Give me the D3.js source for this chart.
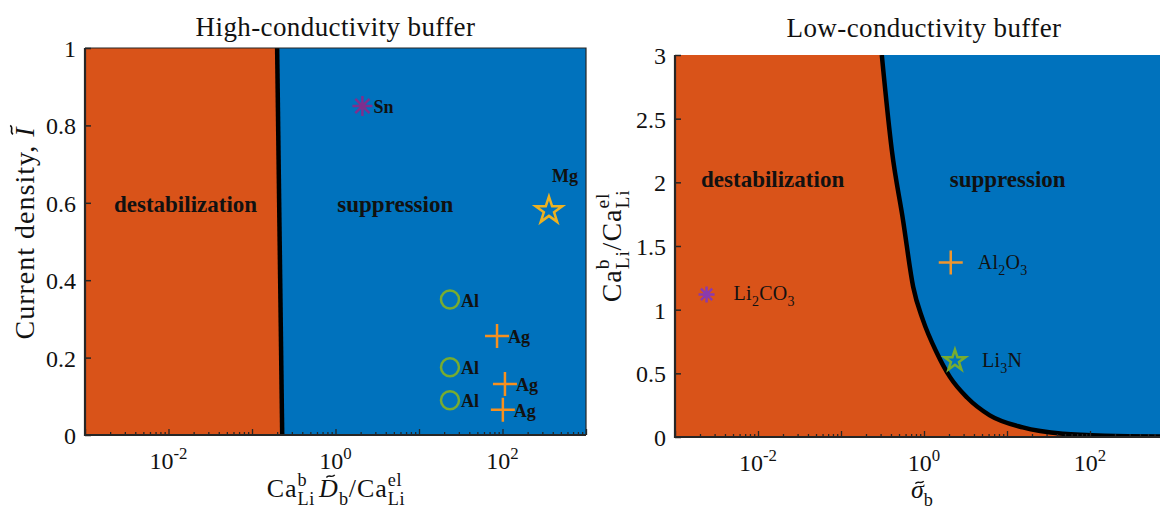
<!DOCTYPE html>
<html>
<head>
<meta charset="utf-8">
<script src="https://cdn.jsdelivr.net/npm/d3@7"></script>
<style>
  body { margin: 0; background: #fff; }
  text { font-family: "Liberation Serif", "Times New Roman", serif; fill: #111; }
</style>
</head>
<body>
<svg id="chart"></svg>
<script>
// ---- data: high-conductivity buffer ----
var xDomain = [1e-3, 1e3];
var xLabelExponents = [-2, 0, 2];

var hiBoundaryX = [0.23, 0.2];
var hiBoundaryY = [0, 1];
var hiYTicks = [0, 0.2, 0.4, 0.6, 0.8, 1];
var hiNames = ["Sn", "Mg", "Al", "Al", "Al", "Ag", "Ag", "Ag"];
var hiMarkers = ["asterisk", "star", "circle", "circle", "circle", "plus", "plus", "plus"];
var hiX = [2.1, 360, 23.5, 23.5, 23.5, 86, 107, 101];
var hiY = [0.85, 0.58, 0.35, 0.175, 0.09, 0.256, 0.132, 0.065];
var hiRegionText = ["destabilization", "suppression"];
var hiRegionX = [0.016, 5.2];
var hiRegionY = [0.575, 0.575];

// ---- data: low-conductivity buffer ----
var loBoundaryX = [0.31, 0.41, 0.56, 0.74, 0.97, 1.43, 2.06, 3.3, 6.2, 15.5, 47, 150, 1000];
var loBoundaryY = [3.0, 2.25, 1.70, 1.18, 0.92, 0.66, 0.47, 0.31, 0.17, 0.075, 0.025, 0.01, 0.004];
var loYTicks = [0, 0.5, 1, 1.5, 2, 2.5, 3];
var loNames = ["Li2CO3", "Al2O3", "Li3N"];
var loMarkers = ["asterisk", "plus", "star"];
var loX = [0.0024, 2.1, 2.36];
var loY = [1.12, 1.37, 0.60];
var loRegionText = ["destabilization", "suppression"];
var loRegionX = [0.015, 10.2];
var loRegionY = [1.96, 1.96];

var orange = "#D95319", blue = "#0072BD", axisColor = "#262626";

var svg = d3.select("#chart").attr("width", 1160).attr("height", 509);

// draws text with stacked super/subscripts (and tilde accents), returns width
function mathText(g, pieces, fs, ls) {
  var cx = 0;
  ls = ls || 0;
  pieces.forEach(function(p) {
    if (p.t) {
      var t = g.append("text").attr("x", cx).attr("y", 0)
        .attr("font-size", fs)
        .attr("letter-spacing", ls)
        .attr("font-style", p.it ? "italic" : null)
        .text(p.t);
      var tw = t.node().getComputedTextLength();
      if (p.tilde) {
        // tilde accent drawn as a small wave
        var tx = cx + tw / 2 + (p.it ? fs * 0.08 : 0) - ls / 2;
        var ty = p.cap ? -0.8 * fs : -0.6 * fs;
        var a = 0.16 * fs, h = 0.05 * fs;
        g.append("path")
          .attr("transform", "translate(" + tx + "," + ty + ")")
          .attr("d", "M" + (-a) + "," + h + "C" + (-a / 3) + "," + (-2 * h) + " " +
            (a / 3) + "," + (2 * h) + " " + a + "," + (-h))
          .attr("fill", "none")
          .attr("stroke", "#111")
          .attr("stroke-width", 0.055 * fs);
      }
      cx += tw;
    }
    var w = 0;
    if (p.sup) {
      var s = g.append("text").attr("x", cx).attr("y", -0.42 * fs)
        .attr("font-size", 0.7 * fs).attr("letter-spacing", ls * 0.7).text(p.sup);
      w = Math.max(w, s.node().getComputedTextLength());
    }
    if (p.sub) {
      var b = g.append("text").attr("x", cx).attr("y", 0.3 * fs)
        .attr("font-size", 0.7 * fs).attr("letter-spacing", ls * 0.7).text(p.sub);
      w = Math.max(w, b.node().getComputedTextLength());
    }
    cx += w + (p.gap || 0);
  });
  return cx;
}

function placeCentered(pieces, fs, x, y, rotate, ls) {
  var g = svg.append("g");
  var w = mathText(g, pieces, fs, ls);
  if (rotate) g.attr("transform", "translate(" + x + "," + (y + w / 2) + ") rotate(-90)");
  else g.attr("transform", "translate(" + (x - w / 2) + "," + y + ")");
}

// chemical formula: digits become subscripts
function formulaPieces(name) {
  var parts = name.match(/[A-Za-z]+|\d+/g);
  var pieces = [];
  parts.forEach(function(s) {
    if (/\d/.test(s)) pieces[pieces.length - 1].sub = s;
    else pieces.push({t: s, gap: 0});
  });
  return pieces;
}

function markerPath(type, r) {
  if (type === "plus") return "M" + (-r) + ",0H" + r + "M0," + (-r) + "V" + r;
  if (type === "asterisk") {
    var d = r * Math.SQRT1_2;
    return "M" + (-r) + ",0H" + r + "M0," + (-r) + "V" + r +
      "M" + (-d) + "," + (-d) + "L" + d + "," + d + "M" + (-d) + "," + d + "L" + d + "," + (-d);
  }
  if (type === "star") return d3.symbol(d3.symbolStar).size(r * r / 0.8908)();
  return d3.symbol(d3.symbolCircle).size(Math.PI * r * r)();
}

function drawPanel(p) {
  var x = d3.scaleLog().domain(xDomain).range([p.left, p.right]);
  var y = d3.scaleLinear().domain([0, p.yMax]).range([p.bottom, p.top]);
  var clipId = "clip" + p.id;

  svg.append("clipPath").attr("id", clipId).append("rect")
    .attr("x", p.left).attr("y", p.top)
    .attr("width", p.right - p.left).attr("height", p.bottom - p.top);

  var plot = svg.append("g").attr("clip-path", "url(#" + clipId + ")");

  plot.append("rect")
    .attr("x", p.left).attr("y", p.top)
    .attr("width", p.right - p.left).attr("height", p.bottom - p.top)
    .attr("fill", blue);

  var bnd = p.bx.map(function(v, i) { return [v, p.by[i]]; });
  var first = bnd[0], last = bnd[bnd.length - 1];
  var corners = last[1] < first[1]
    ? [[xDomain[1], 0], [xDomain[0], 0], [xDomain[0], p.yMax]]
    : [[xDomain[0], last[1]], [xDomain[0], first[1]]];

  var line = d3.line()
    .x(function(d) { return x(d[0]); })
    .y(function(d) { return y(d[1]); });

  plot.append("path")
    .attr("d", line(bnd.concat(corners)) + "Z")
    .attr("fill", orange);

  plot.append("path")
    .attr("d", line.curve(p.curve)(bnd))
    .attr("fill", "none")
    .attr("stroke", "#000")
    .attr("stroke-width", 4.5);

  // region labels
  p.regionText.forEach(function(t, i) {
    plot.append("text")
      .attr("x", x(p.regionX[i])).attr("y", y(p.regionY[i]))
      .attr("text-anchor", "middle")
      .attr("font-size", 23).attr("font-weight", "bold")
      .text(t);
  });

  // markers
  p.names.forEach(function(name, i) {
    var mx = x(p.xs[i]), my = y(p.ys[i]);
    var type = p.markers[i];
    plot.append("path")
      .attr("transform", "translate(" + mx + "," + my + ")")
      .attr("d", markerPath(type, p.sizes[type]))
      .attr("fill", "none")
      .attr("stroke", p.colors[type])
      .attr("stroke-width", 2.5);

    var lg = plot.append("g");
    if (p.formula) {
      mathText(lg, formulaPieces(name), 20, 0.3);
      lg.attr("transform", "translate(" + (mx + 27) + "," + (my + 6) + ")");
    } else {
      lg.append("text").attr("font-size", 18).attr("font-weight", "bold").text(name);
      if (name === "Mg") lg.attr("transform", "translate(" + (mx + 3) + "," + (my - 29) + ")");
      else lg.attr("transform", "translate(" + (mx + 11) + "," + (my + 7) + ")");
    }
  });

  // x ticks (inside)
  var allTicks = x.ticks();
  var isDecade = function(v) {
    var l = Math.log10(v);
    return Math.abs(l - Math.round(l)) < 1e-9;
  };
  var minor = allTicks.filter(function(v) { return !isDecade(v); });
  var major = allTicks.filter(isDecade);

  [[minor, 3], [major, 6]].forEach(function(set) {
    var ax = svg.append("g")
      .attr("transform", "translate(0," + p.bottom + ")")
      .call(d3.axisBottom(x).tickValues(set[0]).tickSizeInner(-set[1])
        .tickSizeOuter(0).tickFormat(""));
    ax.select(".domain").remove();
    ax.selectAll("line").attr("stroke", axisColor).attr("stroke-width", 1.3);
  });

  var yAx = svg.append("g")
    .attr("transform", "translate(" + p.left + ",0)")
    .call(d3.axisLeft(y).tickValues(p.yTicks).tickSizeInner(-6).tickSizeOuter(0)
      .tickPadding(9).tickFormat(d3.format("")));
  yAx.select(".domain").remove();
  yAx.selectAll("line").attr("stroke", axisColor).attr("stroke-width", 1.5);
  yAx.selectAll("text")
    .attr("font-size", 24)
    .attr("font-family", "Liberation Serif, serif")
    .attr("fill", "#222")
    .attr("dy", "0.35em");

  // frame
  var frame = svg.append("g").attr("fill", "none").attr("stroke", axisColor);
  frame.append("path")
    .attr("d", "M" + p.left + "," + p.top + "V" + p.bottom + "H" + p.right)
    .attr("stroke-width", 2.2);
  if (p.box) {
    frame.append("path")
      .attr("d", "M" + p.left + "," + p.top + "H" + p.right + "V" + p.bottom)
      .attr("stroke-width", 1.2);
  }

  // decade labels
  xLabelExponents.forEach(function(e) {
    placeCentered([{t: "10", sup: String(e)}], 24,
      x(Math.pow(10, e)), p.bottom + 34);
  });

  // title
  svg.append("text")
    .attr("x", (p.left + p.right) / 2).attr("y", p.titleY)
    .attr("text-anchor", "middle")
    .attr("font-size", 27)
    .attr("letter-spacing", 0.4)
    .text(p.title);
}

drawPanel({
  id: "hi", left: 85, right: 586, top: 48, bottom: 435, yMax: 1,
  bx: hiBoundaryX, by: hiBoundaryY, curve: d3.curveLinear,
  yTicks: hiYTicks, names: hiNames, markers: hiMarkers, xs: hiX, ys: hiY,
  regionText: hiRegionText, regionX: hiRegionX, regionY: hiRegionY,
  colors: {asterisk: "#7E2F8E", star: "#EDB120", circle: "#77AC30", plus: "#F7901E"},
  sizes: {asterisk: 10, star: 14, circle: 9, plus: 12},
  box: true, formula: false,
  title: "High-conductivity buffer", titleY: 36
});

drawPanel({
  id: "lo", left: 675, right: 1173, top: 55, bottom: 437, yMax: 3,
  bx: loBoundaryX, by: loBoundaryY, curve: d3.curveMonotoneX,
  yTicks: loYTicks, names: loNames, markers: loMarkers, xs: loX, ys: loY,
  regionText: loRegionText, regionX: loRegionX, regionY: loRegionY,
  colors: {asterisk: "#8A3AAE", star: "#77AC30", plus: "#F0962E"},
  sizes: {asterisk: 8, star: 11, plus: 12},
  box: false, formula: true,
  title: "Low-conductivity buffer", titleY: 37
});

// axis titles
placeCentered([{t: "Current density,\u00A0"}, {t: "I", it: true, tilde: true, cap: true}],
  28, 34, 233, true, 1);
placeCentered([
  {t: "Ca", sup: "b", sub: "Li", gap: 4},
  {t: "D", it: true, tilde: true, cap: true, sub: "b"},
  {t: "/Ca", sup: "el", sub: "Li"}
], 26, 336, 497, false, 1);

placeCentered([{t: "Ca", sup: "b", sub: "Li"}, {t: "/Ca", sup: "el", sub: "Li"}],
  28, 621, 246, true, 1);
placeCentered([{t: "\u03C3", it: true, tilde: true, sub: "b"}], 26, 922, 498);
</script>
</body>
</html>
